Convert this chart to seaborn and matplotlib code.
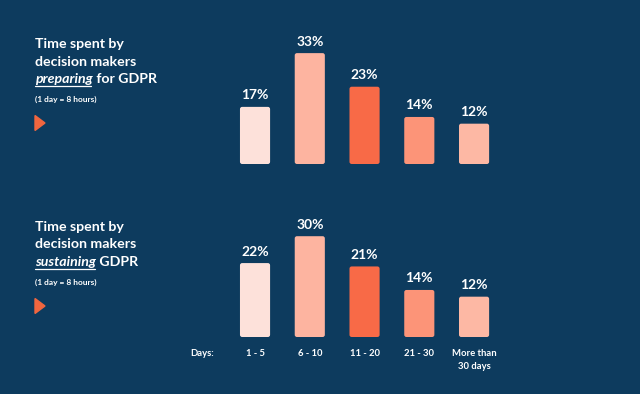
"""
GDPR time-spent chart: two bar panels on a navy background.
"""

import matplotlib.pyplot as plt
import pandas as pd
import seaborn as sns
from matplotlib.lines import Line2D
from matplotlib.patches import FancyBboxPatch, Polygon

# data
categories = ['1 - 5', '6 - 10', '11 - 20', '21 - 30', 'More than\n30 days']
preparing = [17, 33, 23, 14, 12]
sustaining = [22, 30, 21, 14, 12]
bar_colors = ['#fde1da', '#fdb4a0', '#f86a47', '#fc9478', '#fdb8a4']

BG = '#0d3b5e'
ORANGE = '#f0663f'
FONT = 'Lato'


def round_bars(ax):
    # swap the square bars for slightly rounded ones
    sx, sy = ax.transData.transform((1, 1)) - ax.transData.transform((0, 0))
    for p in list(ax.patches):
        fb = FancyBboxPatch((p.get_x(), 0), p.get_width(), p.get_height(),
                            boxstyle='round,pad=0,rounding_size=%f' % (2.2 / sx),
                            mutation_aspect=sx / sy,
                            facecolor=p.get_facecolor(), edgecolor='none')
        p.remove()
        ax.add_patch(fb)


def draw_panel(ax, values):
    df = pd.DataFrame({'cat': categories, 'pct': values})
    sns.barplot(data=df, x='cat', y='pct', hue='cat', palette=bar_colors,
                width=0.55, saturation=1, legend=False, linewidth=0, ax=ax)
    for p, v in zip(ax.patches, values):
        ax.annotate(f'{v}%', (p.get_x() + p.get_width() / 2, p.get_height()),
                    xytext=(0, 4), textcoords='offset points',
                    ha='center', va='bottom', color='white',
                    fontsize=10, fontweight='bold', family=FONT)
    ax.set_xlim(-0.5, 4.5)
    ax.set_ylim(0, 40)
    ax.set_facecolor('none')
    ax.set_xlabel('')
    ax.set_ylabel('')
    ax.set_yticks([])
    for s in ax.spines.values():
        s.set_visible(False)
    round_bars(ax)


def draw_title(fig, y_top, word, rest):
    x0 = 35 / 640
    lh = 17.5 / 394
    kw = dict(color='white', fontsize=10.2, fontweight='bold', family=FONT,
              va='baseline')
    fig.text(x0, y_top, 'Time spent by', **kw)
    fig.text(x0, y_top - lh, 'decision makers', **kw)
    t = fig.text(x0, y_top - 2 * lh, word, style='italic', **kw)
    fig.canvas.draw()
    bb = t.get_window_extent().transformed(fig.transFigure.inverted())
    fig.text(bb.x1, y_top - 2 * lh, ' ' + rest, **kw)
    uy = y_top - 2 * lh - 2.5 / 394
    fig.add_artist(Line2D([bb.x0, bb.x1 - 0.002], [uy, uy], color='white',
                          lw=0.9, transform=fig.transFigure))
    fig.text(x0, y_top - 2 * lh - 16 / 394, '(1 day = 8 hours)',
             color='white', fontsize=6, fontweight='bold', family=FONT,
             va='center')
    ty = y_top - 2 * lh - 40 / 394
    fig.add_artist(Polygon([[x0, ty + 7.5 / 394], [x0, ty - 7.5 / 394],
                            [x0 + 10 / 640, ty]], closed=True,
                           color=ORANGE, transform=fig.transFigure))


def main():
    sns.set_style('white')
    fig = plt.figure(figsize=(6.4, 3.94), dpi=100)
    fig.patch.set_facecolor(BG)

    ax_top = fig.add_axes([0.3557, 1 - 164 / 394, 0.4278, 134.4 / 394])
    ax_bot = fig.add_axes([0.3557, 1 - 337 / 394, 0.4278, 134.4 / 394])

    draw_panel(ax_top, preparing)
    draw_panel(ax_bot, sustaining)
    ax_top.set_xticks([])
    ax_bot.tick_params(axis='x', length=0, pad=9, colors='white')
    for lab in ax_bot.get_xticklabels():
        lab.set_fontsize(6.8)
        lab.set_fontweight('bold')
        lab.set_family(FONT)
        lab.set_linespacing(1.55)

    fig.text(202 / 640, 1 - 353 / 394, 'Days:', color='white', fontsize=6.8,
             fontweight='bold', family=FONT, ha='center', va='center')

    draw_title(fig, 1 - 48 / 394, 'preparing', 'for GDPR')
    draw_title(fig, 1 - 231 / 394, 'sustaining', 'GDPR')

    fig.savefig('out.png', dpi=100, facecolor=BG)


if __name__ == '__main__':
    main()
